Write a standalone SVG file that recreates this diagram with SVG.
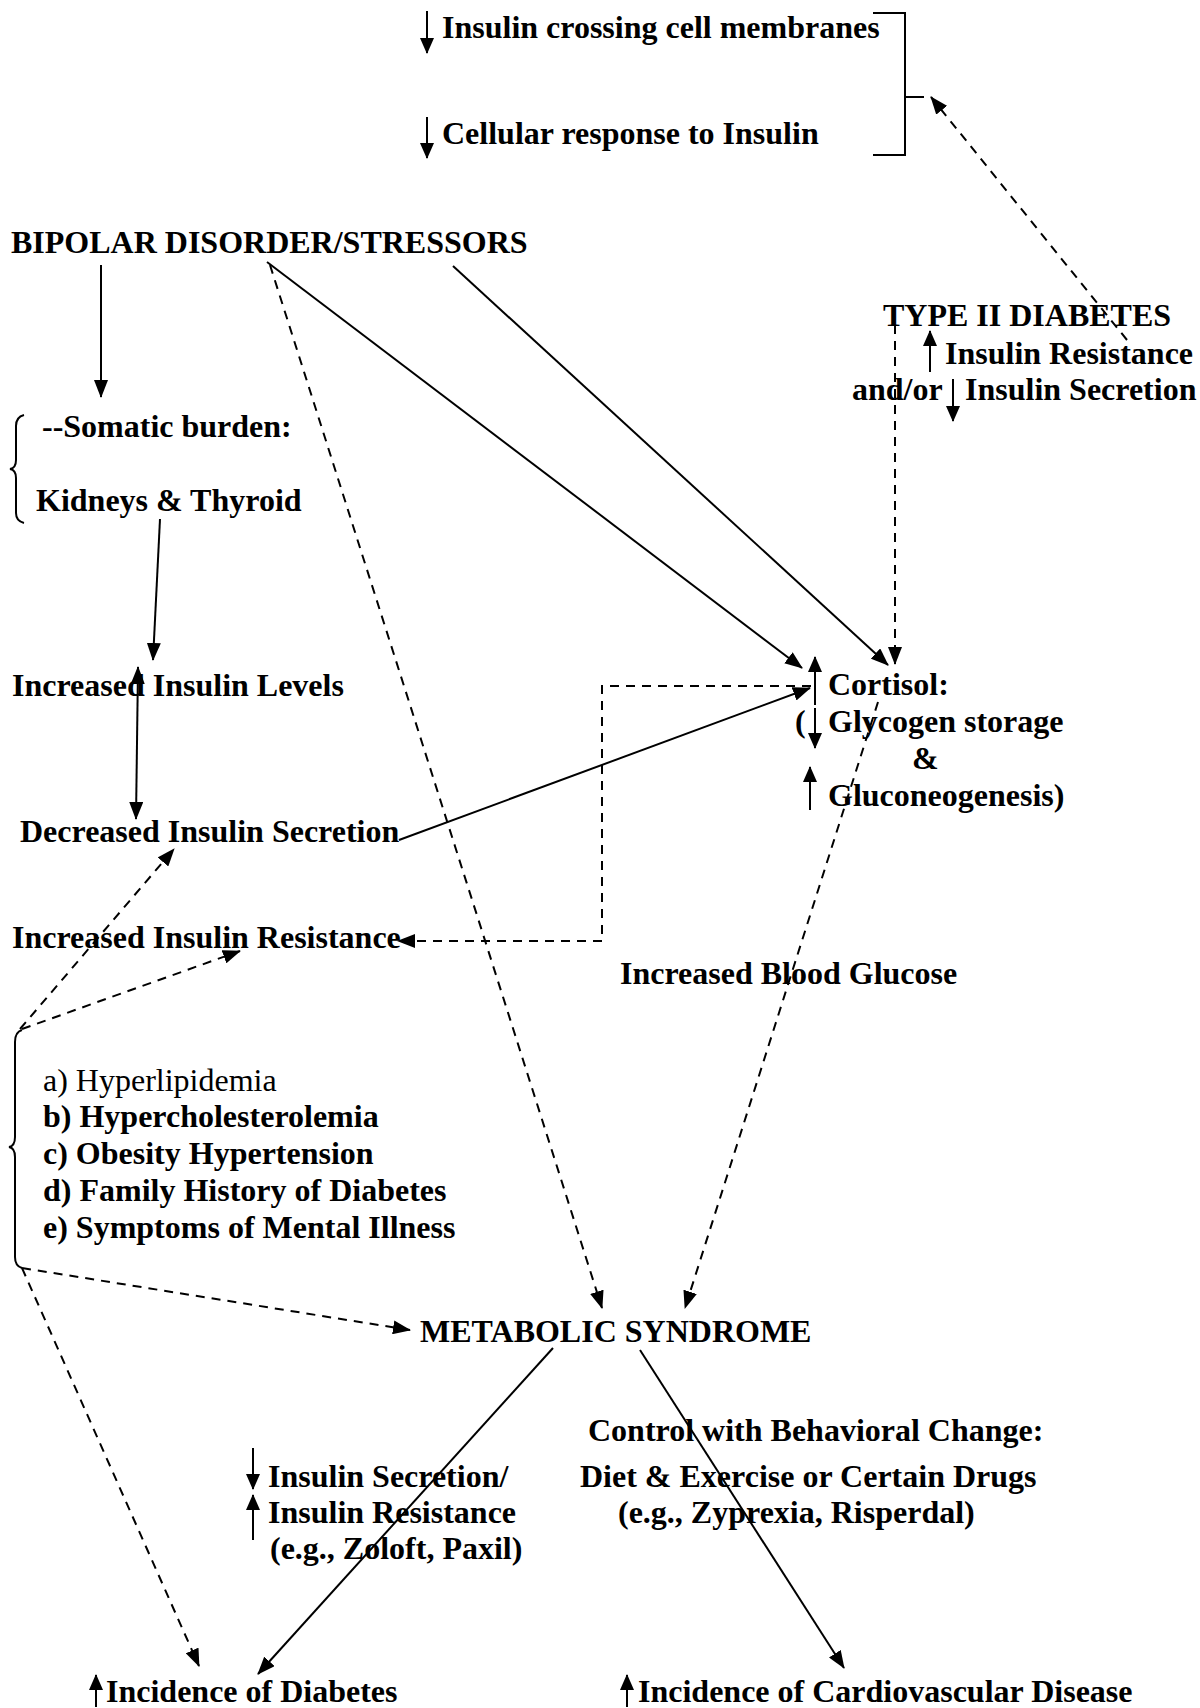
<svg xmlns="http://www.w3.org/2000/svg" width="1200" height="1708" viewBox="0 0 1200 1708">
<style>
text{font-family:"Liberation Serif","Times New Roman",serif;font-size:32px;font-weight:bold;fill:#000}
.reg{font-weight:normal}
.sol{stroke:#000;stroke-width:2;fill:none}
.dsh{stroke:#000;stroke-width:2;fill:none;stroke-dasharray:9 7}
.sym{stroke:#000;stroke-width:2;fill:none}
</style>
<defs>
<marker id="ah" markerUnits="userSpaceOnUse" markerWidth="18" markerHeight="14" refX="17" refY="7" orient="auto-start-reverse" viewBox="0 0 18 14">
<path d="M0,0 L18,7 L0,14 z" fill="#000"/>
</marker>
<marker id="sh" markerUnits="userSpaceOnUse" markerWidth="16" markerHeight="14" refX="15" refY="7" orient="auto" viewBox="0 0 16 14">
<path d="M0,0 L16,7 L0,14 z" fill="#000"/>
</marker>
</defs>

<g id="insulin-membranes">
<line class="sym" x1="427" y1="11" x2="427" y2="53" marker-end="url(#sh)"/>
<text x="442" y="38">Insulin crossing cell membranes</text>
</g>
<g id="cellular-response">
<line class="sym" x1="427" y1="117" x2="427" y2="158" marker-end="url(#sh)"/>
<text x="442" y="144">Cellular response to Insulin</text>
</g>
<g id="bracket">
<path class="sol" d="M873,13 H905 V155 H873 M905,97 H924"/>
</g>
<g id="bipolar">
<text x="11" y="253">BIPOLAR DISORDER/STRESSORS</text>
</g>
<g id="type2">
<text x="883" y="326">TYPE II DIABETES</text>
<line class="sym" x1="930" y1="372" x2="930" y2="331" marker-end="url(#sh)"/>
<text x="945" y="364">Insulin Resistance</text>
<text x="852" y="400">and/or</text>
<line class="sym" x1="953" y1="379" x2="953" y2="421" marker-end="url(#sh)"/>
<text x="965" y="400">Insulin Secretion</text>
</g>
<g id="somatic">
<path class="sol" stroke-width="1.5" d="M24,415 Q16,417 16,426 V460 Q16,468 10,469 Q16,470 16,478 V513 Q16,521 24,523"/>
<text x="42" y="437">--Somatic burden:</text>
<text x="36" y="511">Kidneys &amp; Thyroid</text>
</g>
<g id="inc-insulin-levels">
<text x="12" y="696">Increased Insulin Levels</text>
</g>
<g id="cortisol">
<line class="sym" x1="815" y1="705" x2="815" y2="657" marker-end="url(#sh)"/>
<text x="828" y="695">Cortisol:</text>
<text x="795" y="732">(</text>
<line class="sym" x1="815" y1="708" x2="815" y2="748" marker-end="url(#sh)"/>
<text x="828" y="732">Glycogen storage</text>
<text x="912" y="769">&amp;</text>
<line class="sym" x1="810" y1="810" x2="810" y2="767" marker-end="url(#sh)"/>
<text x="828" y="806">Gluconeogenesis)</text>
</g>
<g id="dec-insulin-secretion">
<text x="20" y="842">Decreased Insulin Secretion</text>
</g>
<g id="inc-insulin-resistance">
<text x="12" y="948">Increased Insulin Resistance</text>
</g>
<g id="blood-glucose">
<text x="620" y="984">Increased Blood Glucose</text>
</g>
<g id="risk-factors">
<path class="sol" stroke-width="1.5" d="M22,1030 Q15,1032 15,1042 V1137 Q15,1146 9,1147 Q15,1148 15,1157 V1257 Q15,1266 22,1268"/>
<text class="reg" x="43" y="1091">a) Hyperlipidemia</text>
<text x="43" y="1127">b) Hypercholesterolemia</text>
<text x="43" y="1164">c) Obesity Hypertension</text>
<text x="43" y="1201">d) Family History of Diabetes</text>
<text x="43" y="1238">e) Symptoms of Mental Illness</text>
</g>
<g id="metabolic">
<text x="420" y="1342">METABOLIC SYNDROME</text>
</g>
<g id="control">
<text x="588" y="1441">Control with Behavioral Change:</text>
<text x="580" y="1487">Diet &amp; Exercise or Certain Drugs</text>
<text x="618" y="1523">(e.g., Zyprexia, Risperdal)</text>
</g>
<g id="ssri">
<line class="sym" x1="253" y1="1448" x2="253" y2="1489" marker-end="url(#sh)"/>
<text x="268" y="1487">Insulin Secretion/</text>
<line class="sym" x1="253" y1="1540" x2="253" y2="1495" marker-end="url(#sh)"/>
<text x="268" y="1523">Insulin Resistance</text>
<text x="270" y="1559">(e.g., Zoloft, Paxil)</text>
</g>
<g id="inc-diabetes">
<line class="sym" x1="96" y1="1707" x2="96" y2="1675" marker-end="url(#sh)"/>
<text x="106" y="1702">Incidence of Diabetes</text>
</g>
<g id="inc-cvd">
<line class="sym" x1="627" y1="1707" x2="627" y2="1675" marker-end="url(#sh)"/>
<text x="638" y="1702">Incidence of Cardiovascular Disease</text>
</g>

<g id="connectors">
<line class="dsh" x1="1127" y1="340" x2="931" y2="97" marker-end="url(#ah)"/>
<line class="sol" x1="101" y1="265" x2="101" y2="397" marker-end="url(#ah)"/>
<line class="sol" x1="160" y1="519" x2="153" y2="660" marker-end="url(#ah)"/>
<line class="sol" x1="138" y1="667" x2="136" y2="819" marker-start="url(#ah)" marker-end="url(#ah)"/>
<line class="sol" x1="267" y1="262" x2="802" y2="668" marker-end="url(#ah)"/>
<line class="sol" x1="453" y1="266" x2="888" y2="665" marker-end="url(#ah)"/>
<line class="dsh" x1="895" y1="325" x2="895" y2="664" marker-end="url(#ah)"/>
<line class="sol" x1="399" y1="840" x2="810" y2="688" marker-end="url(#ah)"/>
<path class="dsh" d="M811,686 H602 V941 H398" marker-end="url(#ah)"/>
<line class="dsh" x1="270" y1="265" x2="602" y2="1308" marker-end="url(#ah)"/>
<line class="dsh" x1="878" y1="702" x2="685" y2="1308" marker-end="url(#ah)"/>
<line class="dsh" x1="20" y1="1029" x2="174" y2="849" marker-end="url(#ah)"/>
<line class="dsh" x1="22" y1="1029" x2="240" y2="951" marker-end="url(#ah)"/>
<line class="dsh" x1="22" y1="1268" x2="410" y2="1330" marker-end="url(#ah)"/>
<line class="dsh" x1="22" y1="1268" x2="199" y2="1666" marker-end="url(#ah)"/>
<line class="sol" x1="553" y1="1348" x2="258" y2="1674" marker-end="url(#ah)"/>
<line class="sol" x1="640" y1="1350" x2="844" y2="1668" marker-end="url(#ah)"/>
</g>
</svg>
